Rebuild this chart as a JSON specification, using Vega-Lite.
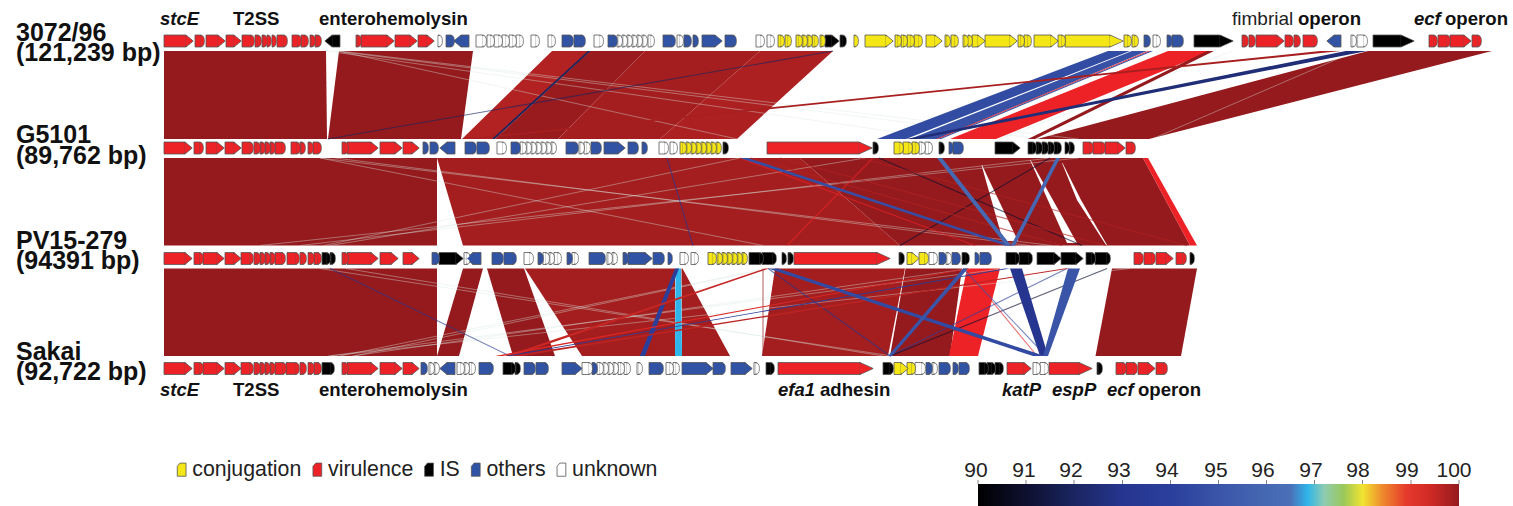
{"$schema":"https://vega.github.io/schema/vega-lite/v6.json","width":1513,"height":506,"padding":0,"autosize":{"type":"fit","contains":"padding"},"background":"white","config":{"view":{"stroke":null},"text":{"font":"Liberation Sans"},"legend":{"labelFont":"Liberation Sans"}},
"datasets":{
"ribbons":[
{"r":"a1","y":51,"x":164,"x2":326,"v":100},{"r":"a1","y":139,"x":164,"x2":327,"v":100},
{"r":"a2","y":51,"x":339,"x2":473,"v":100},{"r":"a2","y":139,"x":328,"x2":461,"v":100},
{"r":"a3","y":51,"x":552,"x2":590,"v":99.7},{"r":"a3","y":139,"x":462,"x2":495,"v":99.7},
{"r":"a4","y":51,"x":590,"x2":645,"v":99.95},{"r":"a4","y":139,"x":495,"x2":558,"v":99.95},
{"r":"a5","y":51,"x":645,"x2":760,"v":99.85},{"r":"a5","y":139,"x":558,"x2":660,"v":99.85},
{"r":"a6","y":51,"x":760,"x2":833,"v":99.75},{"r":"a6","y":139,"x":660,"x2":737,"v":99.75},
{"r":"a7","y":51,"x":1368,"x2":1492,"v":100},{"r":"a7","y":139,"x":1037,"x2":1149,"v":100},
{"r":"b1","y":158,"x":164,"x2":437,"v":100},{"r":"b1","y":245.5,"x":164,"x2":437,"v":100},
{"r":"b2","y":158,"x":437,"x2":800,"v":99.85},{"r":"b2","y":245.5,"x":463,"x2":900,"v":99.85},
{"r":"b3","y":158,"x":800,"x2":1143,"v":100},{"r":"b3","y":245.5,"x":900,"x2":1190,"v":100},
{"r":"b4","y":158,"x":1143,"x2":1148,"v":98.9},{"r":"b4","y":245.5,"x":1190,"x2":1197,"v":98.9},
{"r":"c1","y":268.5,"x":164,"x2":437,"v":100},{"r":"c1","y":356,"x":164,"x2":437,"v":100},
{"r":"c2","y":268.5,"x":463,"x2":483,"v":100},{"r":"c2","y":356,"x":437,"x2":459,"v":100},
{"r":"c3","y":268.5,"x":487,"x2":524,"v":100},{"r":"c3","y":356,"x":513,"x2":555,"v":100},
{"r":"c4","y":268.5,"x":525,"x2":675,"v":99.85},{"r":"c4","y":356,"x":582,"x2":675,"v":99.85},
{"r":"c6","y":268.5,"x":681.5,"x2":682.5,"v":99.85},{"r":"c6","y":356,"x":682,"x2":730,"v":99.85},
{"r":"c12","y":268.5,"x":775,"x2":905,"v":99.85},{"r":"c12","y":356,"x":762,"x2":888,"v":99.85},
{"r":"c13","y":268.5,"x":905.5,"x2":962,"v":100},{"r":"c13","y":356,"x":890,"x2":950,"v":100},
{"r":"c14","y":268.5,"x":967,"x2":1000,"v":98.9},{"r":"c14","y":356,"x":949,"x2":978,"v":98.9},
{"r":"c19","y":268.5,"x":1112,"x2":1197,"v":100},{"r":"c19","y":356,"x":1095.5,"x2":1181,"v":100}
],
"gaps":[
{"r":"w1","y":165,"x":981.5,"x2":982},{"r":"w1","y":241,"x":1003,"x2":1018},
{"r":"w2","y":160,"x":1030,"x2":1030.5},{"r":"w2","y":243,"x":1067,"x2":1077},
{"r":"w3","y":163,"x":1062,"x2":1062.5},{"r":"w3","y":200,"x":1077,"x2":1081},{"r":"w3","y":245,"x":1106,"x2":1107}
],
"bands":[
{"r":"a8","y":51,"x":1108,"x2":1130,"v":94.6},{"r":"a8","y":139,"x":877,"x2":906,"v":94.6},
{"r":"a9","y":51,"x":1132,"x2":1147,"v":94.8},{"r":"a9","y":139,"x":910,"x2":937,"v":94.8},
{"r":"a10","y":51,"x":1168,"x2":1212,"v":98.9},{"r":"a10","y":139,"x":950,"x2":996,"v":98.9},
{"r":"a11","y":51,"x":1150,"x2":1153,"v":95},{"r":"a11","y":139,"x":938,"x2":941,"v":95},
{"r":"a12","y":51,"x":1148,"x2":1150,"v":99},{"r":"a12","y":139,"x":936,"x2":938,"v":99},
{"r":"a13","y":51,"x":1207,"x2":1214,"v":100},{"r":"a13","y":139,"x":1028,"x2":1035,"v":100},
{"r":"a14","y":51,"x":1320,"x2":1341,"v":99.8},{"r":"a14","y":139,"x":462,"x2":476,"v":99.8},
{"r":"a15","y":51,"x":1346,"x2":1367,"v":92.5},{"r":"a15","y":139,"x":906,"x2":918,"v":92.5},
{"r":"a16","y":51,"x":588,"x2":590.5,"v":92},{"r":"a16","y":139,"x":492,"x2":494.5,"v":92},
{"r":"b5","y":158,"x":740,"x2":748,"v":94.7},{"r":"b5","y":245.5,"x":1005,"x2":1013,"v":94.7},
{"r":"b6","y":158,"x":937,"x2":942,"v":96},{"r":"b6","y":245.5,"x":1006,"x2":1011,"v":96},
{"r":"b7","y":158,"x":1056,"x2":1060,"v":96},{"r":"b7","y":245.5,"x":1011,"x2":1015,"v":96},
{"r":"c5","y":268.5,"x":675.5,"x2":681,"v":96.85},{"r":"c5","y":356,"x":675,"x2":682,"v":96.85},
{"r":"c7","y":268.5,"x":675,"x2":679,"v":94},{"r":"c7","y":356,"x":640,"x2":645,"v":94},
{"r":"c8","y":268.5,"x":765,"x2":769,"v":99.5},{"r":"c8","y":356,"x":505,"x2":513,"v":99.5},
{"r":"c9","y":268.5,"x":966,"x2":970,"v":99.2},{"r":"c9","y":356,"x":495,"x2":503,"v":99.2},
{"r":"c10","y":268.5,"x":1064,"x2":1070,"v":99.6},{"r":"c10","y":356,"x":510,"x2":522,"v":99.6},
{"r":"c11","y":268.5,"x":1005,"x2":1010,"v":93.9},{"r":"c11","y":356,"x":505,"x2":510,"v":93.9},
{"r":"c15","y":268.5,"x":1010,"x2":1022,"v":93},{"r":"c15","y":356,"x":1040,"x2":1048,"v":93},
{"r":"c16","y":268.5,"x":1068,"x2":1080,"v":95},{"r":"c16","y":356,"x":1043,"x2":1048,"v":95},
{"r":"c17","y":268.5,"x":768,"x2":778,"v":94.5},{"r":"c17","y":356,"x":1033,"x2":1045,"v":94.5},
{"r":"c18","y":268.5,"x":963,"x2":968,"v":95},{"r":"c18","y":356,"x":888,"x2":892,"v":95}
],
"faint":[
{"x":339,"x2":1078,"y":51,"y2":139},{"x":327,"x2":945,"y":51,"y2":139},{"x":338,"x2":737,"y":51,"y2":139},{"x":335,"x2":1040,"y":51,"y2":139},{"x":1232,"x2":1000,"y":51,"y2":139},{"x":1356,"x2":1152,"y":51,"y2":139},
{"x":320,"x2":1052,"y":158,"y2":245.5},{"x":335,"x2":1030,"y":158,"y2":245.5},{"x":320,"x2":763,"y":158,"y2":245.5},{"x":740,"x2":324,"y":158,"y2":245.5},{"x":865,"x2":330,"y":158,"y2":245.5},{"x":1078,"x2":260,"y":158,"y2":245.5},{"x":1050,"x2":300,"y":158,"y2":245.5},
{"x":320,"x2":892,"y":268.5,"y2":356},{"x":769,"x2":354,"y":268.5,"y2":356},{"x":1005,"x2":328,"y":268.5,"y2":356},{"x":1130,"x2":330,"y":268.5,"y2":356},{"x":767,"x2":340,"y":268.5,"y2":356},{"x":346,"x2":883,"y":268.5,"y2":356},{"x":970,"x2":352,"y":268.5,"y2":356}
],
"lines":[
{"x":833,"x2":328,"y":51,"y2":139,"v":92},
{"x":667,"x2":693,"y":158,"y2":245.5,"v":93},{"x":879,"x2":1082,"y":158,"y2":245.5,"v":91},{"x":1050,"x2":900,"y":158,"y2":245.5,"v":91},{"x":873,"x2":787,"y":158,"y2":245.5,"v":98.9},{"x":740,"x2":975,"y":158,"y2":245.5,"v":98.9},{"x":751,"x2":1062,"y":158,"y2":245.5,"v":99.7},{"x":780,"x2":1106,"y":158,"y2":245.5,"v":99.7},{"x":860,"x2":1187,"y":158,"y2":245.5,"v":99.7},
{"x":763,"x2":763,"y":268.5,"y2":356,"v":100},{"x":1067,"x2":890,"y":268.5,"y2":356,"v":94},{"x":768,"x2":890,"y":268.5,"y2":356,"v":93},{"x":1107,"x2":890,"y":268.5,"y2":356,"v":91},{"x":965,"x2":1037,"y":268.5,"y2":356,"v":99},{"x":963,"x2":1046,"y":268.5,"y2":356,"v":95},{"x":330,"x2":510,"y":268.5,"y2":356,"v":93}
],
"genes":[
{"y":41,"x":164,"s":186,"k":"virulence","d":"R"},{"y":41,"x":195,"s":201,"k":"virulence"},{"y":41,"x":206,"s":218,"k":"virulence","d":"R"},{"y":41,"x":226,"s":234,"k":"virulence","d":"R"},{"y":41,"x":242,"s":251,"k":"virulence"},{"y":41,"x":255,"s":258,"k":"virulence"},{"y":41,"x":262,"s":264,"k":"virulence"},{"y":41,"x":267,"s":268,"k":"virulence"},{"y":41,"x":272,"s":273,"k":"virulence"},{"y":41,"x":277,"s":284,"k":"virulence"},{"y":41,"x":292,"s":298,"k":"virulence"},{"y":41,"x":301,"s":305,"k":"virulence"},{"y":41,"x":310,"s":312,"k":"virulence"},{"y":41,"x":315,"s":318,"k":"virulence"},
{"y":41,"x":340,"s":332,"k":"IS","d":"l"},{"y":41,"x":356,"s":358,"k":"virulence"},{"y":41,"x":361,"s":387,"k":"virulence","d":"R"},{"y":41,"x":395,"s":410,"k":"virulence","d":"R"},{"y":41,"x":418,"s":427,"k":"virulence","d":"R"},
{"y":41,"x":438,"s":439,"k":"unknown"},{"y":41,"x":446,"s":451,"k":"others"},{"y":41,"x":469,"s":461,"k":"others","d":"l"},
{"y":41,"x":476,"s":483,"k":"unknown"},{"y":41,"x":487,"s":491,"k":"unknown"},{"y":41,"x":494,"s":499,"k":"unknown"},{"y":41,"x":502,"s":506,"k":"unknown"},{"y":41,"x":509,"s":513,"k":"unknown"},{"y":41,"x":516,"s":520,"k":"unknown"},{"y":41,"x":531,"s":536,"k":"unknown"},{"y":41,"x":548,"s":552,"k":"unknown"},
{"y":41,"x":562,"s":570,"k":"others"},{"y":41,"x":574,"s":582,"k":"others"},{"y":41,"x":594,"s":600,"k":"unknown"},{"y":41,"x":608,"s":614,"k":"others"},{"y":41,"x":617,"s":619,"k":"unknown"},{"y":41,"x":622,"s":624,"k":"unknown"},{"y":41,"x":627,"s":629,"k":"unknown"},{"y":41,"x":632,"s":634,"k":"unknown"},{"y":41,"x":637,"s":639,"k":"unknown"},{"y":41,"x":642,"s":644,"k":"unknown"},{"y":41,"x":648,"s":651,"k":"unknown"},
{"y":41,"x":663,"s":672,"k":"others"},{"y":41,"x":677,"s":680,"k":"unknown"},{"y":41,"x":684,"s":688,"k":"others"},{"y":41,"x":693,"s":695,"k":"others"},{"y":41,"x":702,"s":715,"k":"others","d":"R"},{"y":41,"x":725,"s":733,"k":"others"},
{"y":41,"x":756,"s":761,"k":"unknown"},{"y":41,"x":767,"s":771,"k":"unknown"},{"y":41,"x":778,"s":781,"k":"conjugation"},{"y":41,"x":785,"s":788,"k":"conjugation"},{"y":41,"x":796,"s":799,"k":"conjugation"},{"y":41,"x":802,"s":804,"k":"conjugation"},{"y":41,"x":807,"s":809,"k":"conjugation"},{"y":41,"x":812,"s":815,"k":"conjugation"},{"y":41,"x":820,"s":822,"k":"conjugation"},{"y":41,"x":825,"s":832,"k":"IS","d":"R"},{"y":41,"x":840,"s":843,"k":"IS"},{"y":41,"x":854,"s":855,"k":"conjugation"},
{"y":41,"x":865,"s":886,"k":"conjugation","d":"R"},{"y":41,"x":895,"s":898,"k":"conjugation"},{"y":41,"x":901,"s":904,"k":"conjugation"},{"y":41,"x":907,"s":911,"k":"conjugation"},{"y":41,"x":914,"s":919,"k":"conjugation"},{"y":41,"x":926,"s":935,"k":"conjugation","d":"R"},{"y":41,"x":945,"s":947,"k":"conjugation"},{"y":41,"x":951,"s":955,"k":"conjugation"},{"y":41,"x":963,"s":965,"k":"conjugation"},{"y":41,"x":968,"s":969,"k":"conjugation"},{"y":41,"x":972,"s":978,"k":"conjugation","d":"R"},{"y":41,"x":985,"s":1010,"k":"conjugation","d":"R"},{"y":41,"x":1018,"s":1021,"k":"conjugation"},{"y":41,"x":1024,"s":1028,"k":"conjugation"},{"y":41,"x":1034,"s":1051,"k":"conjugation","d":"R"},{"y":41,"x":1058,"s":1062,"k":"conjugation"},{"y":41,"x":1065,"s":1110,"k":"conjugation","d":"H"},{"y":41,"x":1124,"s":1128,"k":"conjugation"},{"y":41,"x":1132,"s":1135,"k":"conjugation"},
{"y":41,"x":1144,"s":1147,"k":"others"},{"y":41,"x":1153,"s":1157,"k":"unknown"},{"y":41,"x":1167,"s":1169,"k":"others"},{"y":41,"x":1172,"s":1180,"k":"others"},{"y":41,"x":1194,"s":1220,"k":"IS","d":"H"},{"y":41,"x":1242,"s":1245,"k":"virulence"},{"y":41,"x":1249,"s":1252,"k":"virulence"},{"y":41,"x":1256,"s":1277,"k":"virulence","d":"R"},{"y":41,"x":1285,"s":1290,"k":"virulence"},{"y":41,"x":1294,"s":1297,"k":"virulence"},{"y":41,"x":1303,"s":1314,"k":"virulence"},{"y":41,"x":1341,"s":1334,"k":"others","d":"l"},{"y":41,"x":1351,"s":1353,"k":"unknown"},{"y":41,"x":1357,"s":1364,"k":"unknown"},{"y":41,"x":1373,"s":1401,"k":"IS","d":"H"},{"y":41,"x":1429,"s":1434,"k":"virulence"},{"y":41,"x":1438,"s":1447,"k":"virulence"},{"y":41,"x":1450,"s":1464,"k":"virulence","d":"R"},{"y":41,"x":1472,"s":1478,"k":"virulence"},

{"y":148,"x":164,"s":185,"k":"virulence","d":"R"},{"y":148,"x":194,"s":200,"k":"virulence"},{"y":148,"x":206,"s":217,"k":"virulence","d":"R"},{"y":148,"x":225,"s":234,"k":"virulence","d":"R"},{"y":148,"x":242,"s":250,"k":"virulence"},{"y":148,"x":254,"s":257,"k":"virulence"},{"y":148,"x":260,"s":262,"k":"virulence"},{"y":148,"x":265,"s":267,"k":"virulence"},{"y":148,"x":270,"s":272,"k":"virulence"},{"y":148,"x":275,"s":282,"k":"virulence"},{"y":148,"x":291,"s":297,"k":"virulence"},{"y":148,"x":300,"s":302,"k":"virulence"},{"y":148,"x":308,"s":310,"k":"virulence"},{"y":148,"x":313,"s":318,"k":"virulence"},
{"y":148,"x":342,"s":345,"k":"virulence"},{"y":148,"x":347,"s":371,"k":"virulence","d":"R"},{"y":148,"x":380,"s":395,"k":"virulence","d":"R"},{"y":148,"x":403,"s":412,"k":"virulence","d":"R"},
{"y":148,"x":423,"s":425,"k":"others"},{"y":148,"x":430,"s":435,"k":"others"},{"y":148,"x":455,"s":447,"k":"others","d":"l"},{"y":148,"x":465,"s":473,"k":"others"},{"y":148,"x":477,"s":486,"k":"others"},{"y":148,"x":497,"s":503,"k":"unknown"},{"y":148,"x":511,"s":517,"k":"others"},{"y":148,"x":520,"s":523,"k":"unknown"},{"y":148,"x":526,"s":528,"k":"unknown"},{"y":148,"x":531,"s":533,"k":"unknown"},{"y":148,"x":536,"s":538,"k":"unknown"},{"y":148,"x":541,"s":543,"k":"unknown"},{"y":148,"x":546,"s":548,"k":"unknown"},{"y":148,"x":551,"s":553,"k":"unknown"},
{"y":148,"x":566,"s":575,"k":"others"},{"y":148,"x":579,"s":581,"k":"unknown"},{"y":148,"x":584,"s":587,"k":"unknown"},{"y":148,"x":591,"s":598,"k":"others"},{"y":148,"x":604,"s":618,"k":"others","d":"R"},{"y":148,"x":628,"s":635,"k":"others"},{"y":148,"x":642,"s":644,"k":"others"},{"y":148,"x":659,"s":665,"k":"unknown"},{"y":148,"x":670,"s":674,"k":"unknown"},
{"y":148,"x":680,"s":683,"k":"conjugation"},{"y":148,"x":686,"s":688,"k":"conjugation"},{"y":148,"x":691,"s":693,"k":"conjugation"},{"y":148,"x":696,"s":698,"k":"conjugation"},{"y":148,"x":701,"s":703,"k":"conjugation"},{"y":148,"x":706,"s":708,"k":"conjugation"},{"y":148,"x":711,"s":713,"k":"conjugation"},{"y":148,"x":716,"s":718,"k":"conjugation"},{"y":148,"x":723,"s":725,"k":"IS"},
{"y":148,"x":767,"s":859,"k":"virulence","d":"H"},{"y":148,"x":873,"s":875,"k":"IS"},{"y":148,"x":894,"s":900,"k":"conjugation"},{"y":148,"x":903,"s":909,"k":"conjugation"},{"y":148,"x":912,"s":916,"k":"conjugation"},{"y":148,"x":919,"s":922,"k":"unknown"},{"y":148,"x":925,"s":929,"k":"unknown"},{"y":148,"x":939,"s":941,"k":"IS"},{"y":148,"x":949,"s":950,"k":"others"},{"y":148,"x":953,"s":960,"k":"others"},
{"y":148,"x":995,"s":1013,"k":"IS","d":"R"},{"y":148,"x":1028,"s":1033,"k":"IS"},{"y":148,"x":1036,"s":1039,"k":"IS"},{"y":148,"x":1042,"s":1045,"k":"IS"},{"y":148,"x":1048,"s":1051,"k":"IS"},{"y":148,"x":1054,"s":1058,"k":"IS"},{"y":148,"x":1065,"s":1066,"k":"IS"},{"y":148,"x":1069,"s":1071,"k":"IS"},{"y":148,"x":1083,"s":1090,"k":"virulence"},{"y":148,"x":1093,"s":1102,"k":"virulence"},{"y":148,"x":1105,"s":1118,"k":"virulence","d":"R"},{"y":148,"x":1126,"s":1132,"k":"virulence"},

{"y":258.5,"x":164,"s":185,"k":"virulence","d":"R"},{"y":258.5,"x":194,"s":200,"k":"virulence"},{"y":258.5,"x":203,"s":217,"k":"virulence","d":"R"},{"y":258.5,"x":225,"s":234,"k":"virulence","d":"R"},{"y":258.5,"x":241,"s":250,"k":"virulence"},{"y":258.5,"x":254,"s":257,"k":"virulence"},{"y":258.5,"x":260,"s":262,"k":"virulence"},{"y":258.5,"x":265,"s":267,"k":"virulence"},{"y":258.5,"x":270,"s":272,"k":"virulence"},{"y":258.5,"x":275,"s":282,"k":"virulence"},{"y":258.5,"x":287,"s":296,"k":"virulence"},{"y":258.5,"x":300,"s":303,"k":"virulence"},{"y":258.5,"x":308,"s":311,"k":"virulence"},{"y":258.5,"x":314,"s":318,"k":"virulence"},{"y":258.5,"x":322,"s":327,"k":"IS"},{"y":258.5,"x":330,"s":332,"k":"IS"},
{"y":258.5,"x":342,"s":345,"k":"virulence"},{"y":258.5,"x":347,"s":371,"k":"virulence","d":"R"},{"y":258.5,"x":380,"s":391,"k":"virulence","d":"R"},{"y":258.5,"x":403,"s":412,"k":"virulence","d":"R"},
{"y":258.5,"x":432,"s":436,"k":"others"},{"y":258.5,"x":439,"s":456,"k":"IS","d":"R"},{"y":258.5,"x":464,"s":467,"k":"unknown"},{"y":258.5,"x":481,"s":473,"k":"others","d":"l"},{"y":258.5,"x":492,"s":500,"k":"others"},{"y":258.5,"x":504,"s":513,"k":"others"},{"y":258.5,"x":524,"s":530,"k":"unknown"},{"y":258.5,"x":538,"s":540,"k":"others"},{"y":258.5,"x":543,"s":546,"k":"unknown"},{"y":258.5,"x":549,"s":551,"k":"unknown"},{"y":258.5,"x":554,"s":558,"k":"unknown"},{"y":258.5,"x":567,"s":569,"k":"others"},{"y":258.5,"x":572,"s":575,"k":"unknown"},
{"y":258.5,"x":589,"s":602,"k":"others"},{"y":258.5,"x":607,"s":609,"k":"unknown"},{"y":258.5,"x":612,"s":614,"k":"unknown"},{"y":258.5,"x":623,"s":625,"k":"others"},{"y":258.5,"x":628,"s":645,"k":"others","d":"R"},{"y":258.5,"x":653,"s":661,"k":"others"},{"y":258.5,"x":668,"s":669,"k":"others"},{"y":258.5,"x":680,"s":685,"k":"unknown"},{"y":258.5,"x":691,"s":695,"k":"unknown"},
{"y":258.5,"x":708,"s":713,"k":"conjugation"},{"y":258.5,"x":717,"s":719,"k":"conjugation"},{"y":258.5,"x":722,"s":724,"k":"conjugation"},{"y":258.5,"x":727,"s":729,"k":"conjugation"},{"y":258.5,"x":732,"s":734,"k":"conjugation"},{"y":258.5,"x":737,"s":739,"k":"conjugation"},{"y":258.5,"x":742,"s":744,"k":"conjugation"},{"y":258.5,"x":749,"s":760,"k":"IS"},{"y":258.5,"x":762,"s":773,"k":"IS"},{"y":258.5,"x":782,"s":783,"k":"IS"},{"y":258.5,"x":788,"s":790,"k":"IS"},
{"y":258.5,"x":794,"s":877,"k":"virulence","d":"H"},{"y":258.5,"x":899,"s":901,"k":"IS"},{"y":258.5,"x":907,"s":912,"k":"conjugation","d":"R"},{"y":258.5,"x":919,"s":925,"k":"conjugation"},{"y":258.5,"x":929,"s":934,"k":"unknown"},{"y":258.5,"x":939,"s":943,"k":"others"},{"y":258.5,"x":946,"s":948,"k":"unknown"},{"y":258.5,"x":952,"s":957,"k":"others"},{"y":258.5,"x":962,"s":966,"k":"IS"},{"y":258.5,"x":975,"s":976,"k":"others"},{"y":258.5,"x":980,"s":988,"k":"others"},
{"y":258.5,"x":1006,"s":1016,"k":"IS"},{"y":258.5,"x":1019,"s":1029,"k":"IS"},{"y":258.5,"x":1037,"s":1054,"k":"IS","d":"R"},{"y":258.5,"x":1061,"s":1076,"k":"IS","d":"R"},{"y":258.5,"x":1086,"s":1092,"k":"IS"},{"y":258.5,"x":1095,"s":1107,"k":"IS"},{"y":258.5,"x":1134,"s":1140,"k":"virulence"},{"y":258.5,"x":1144,"s":1152,"k":"virulence"},{"y":258.5,"x":1156,"s":1166,"k":"virulence","d":"R"},{"y":258.5,"x":1176,"s":1183,"k":"virulence"},{"y":258.5,"x":1190,"s":1191,"k":"IS"},

{"y":368.5,"x":164,"s":185,"k":"virulence","d":"R"},{"y":368.5,"x":194,"s":200,"k":"virulence"},{"y":368.5,"x":203,"s":217,"k":"virulence","d":"R"},{"y":368.5,"x":225,"s":234,"k":"virulence","d":"R"},{"y":368.5,"x":241,"s":250,"k":"virulence"},{"y":368.5,"x":254,"s":257,"k":"virulence"},{"y":368.5,"x":260,"s":262,"k":"virulence"},{"y":368.5,"x":265,"s":267,"k":"virulence"},{"y":368.5,"x":270,"s":272,"k":"virulence"},{"y":368.5,"x":275,"s":283,"k":"virulence"},{"y":368.5,"x":286,"s":296,"k":"virulence"},{"y":368.5,"x":300,"s":303,"k":"virulence"},{"y":368.5,"x":308,"s":311,"k":"virulence"},{"y":368.5,"x":314,"s":318,"k":"virulence"},{"y":368.5,"x":322,"s":331,"k":"IS"},
{"y":368.5,"x":342,"s":345,"k":"virulence"},{"y":368.5,"x":347,"s":371,"k":"virulence","d":"R"},{"y":368.5,"x":380,"s":395,"k":"virulence","d":"R"},{"y":368.5,"x":403,"s":412,"k":"virulence","d":"R"},
{"y":368.5,"x":421,"s":424,"k":"others"},{"y":368.5,"x":429,"s":431,"k":"unknown"},{"y":368.5,"x":434,"s":436,"k":"unknown"},{"y":368.5,"x":455,"s":447,"k":"others","d":"l"},{"y":368.5,"x":457,"s":461,"k":"unknown"},{"y":368.5,"x":464,"s":466,"k":"unknown"},{"y":368.5,"x":469,"s":472,"k":"unknown"},{"y":368.5,"x":479,"s":490,"k":"others"},{"y":368.5,"x":503,"s":512,"k":"IS"},{"y":368.5,"x":515,"s":517,"k":"IS"},{"y":368.5,"x":524,"s":532,"k":"others"},{"y":368.5,"x":536,"s":545,"k":"others"},
{"y":368.5,"x":562,"s":575,"k":"others","d":"R"},{"y":368.5,"x":582,"s":589,"k":"unknown"},{"y":368.5,"x":592,"s":594,"k":"others"},{"y":368.5,"x":597,"s":600,"k":"unknown"},{"y":368.5,"x":603,"s":605,"k":"unknown"},{"y":368.5,"x":608,"s":610,"k":"unknown"},{"y":368.5,"x":613,"s":615,"k":"unknown"},{"y":368.5,"x":618,"s":621,"k":"unknown"},{"y":368.5,"x":624,"s":627,"k":"unknown"},{"y":368.5,"x":637,"s":639,"k":"unknown"},
{"y":368.5,"x":649,"s":660,"k":"others"},{"y":368.5,"x":666,"s":670,"k":"unknown"},{"y":368.5,"x":673,"s":676,"k":"unknown"},{"y":368.5,"x":682,"s":706,"k":"others","d":"R"},{"y":368.5,"x":713,"s":722,"k":"others"},{"y":368.5,"x":731,"s":745,"k":"others","d":"R"},{"y":368.5,"x":754,"s":756,"k":"unknown"},{"y":368.5,"x":766,"s":771,"k":"IS"},
{"y":368.5,"x":778,"s":860,"k":"virulence","d":"H"},{"y":368.5,"x":883,"s":890,"k":"IS"},{"y":368.5,"x":894,"s":901,"k":"conjugation","d":"R"},{"y":368.5,"x":907,"s":912,"k":"conjugation"},{"y":368.5,"x":915,"s":922,"k":"unknown"},{"y":368.5,"x":926,"s":929,"k":"others"},{"y":368.5,"x":932,"s":934,"k":"unknown"},{"y":368.5,"x":939,"s":947,"k":"others"},{"y":368.5,"x":953,"s":955,"k":"others"},{"y":368.5,"x":959,"s":966,"k":"others"},
{"y":368.5,"x":979,"s":985,"k":"IS"},{"y":368.5,"x":987,"s":992,"k":"IS"},{"y":368.5,"x":995,"s":1000,"k":"IS"},{"y":368.5,"x":1007,"s":1024,"k":"virulence","d":"R"},{"y":368.5,"x":1033,"s":1037,"k":"unknown"},{"y":368.5,"x":1040,"s":1045,"k":"unknown"},{"y":368.5,"x":1049,"s":1079,"k":"virulence","d":"H"},{"y":368.5,"x":1097,"s":1099,"k":"IS"},{"y":368.5,"x":1116,"s":1123,"k":"virulence"},{"y":368.5,"x":1126,"s":1134,"k":"virulence"},{"y":368.5,"x":1138,"s":1148,"k":"virulence","d":"R"},{"y":368.5,"x":1156,"s":1164,"k":"virulence"}
],
"labels":[
{"x":16,"y":41,"t":"3072/96","f":"name"},{"x":16,"y":61,"t":"(121,239 bp)","f":"name"},{"x":16,"y":143,"t":"G5101","f":"name"},{"x":16,"y":164,"t":"(89,762 bp)","f":"name"},{"x":16,"y":249,"t":"PV15-279","f":"name"},{"x":16,"y":269,"t":"(94391 bp)","f":"name"},{"x":16,"y":360,"t":"Sakai","f":"name"},{"x":16,"y":380,"t":"(92,722 bp)","f":"name"},
{"x":160,"y":25,"t":"stcE","f":"bi"},{"x":1414,"y":25,"t":"ecf","f":"bi"},{"x":160,"y":396,"t":"stcE","f":"bi"},{"x":778,"y":396,"t":"efa1","f":"bi"},{"x":1002,"y":396,"t":"katP","f":"bi"},{"x":1052,"y":396,"t":"espP","f":"bi"},{"x":1107,"y":396,"t":"ecf","f":"bi"},
{"x":233,"y":25,"t":"T2SS","f":"b"},{"x":319,"y":25,"t":"enterohemolysin","f":"b"},{"x":1298,"y":25,"t":"operon","f":"b"},{"x":1445,"y":25,"t":"operon","f":"b"},{"x":233,"y":396,"t":"T2SS","f":"b"},{"x":319,"y":396,"t":"enterohemolysin","f":"b"},{"x":820,"y":396,"t":"adhesin","f":"b"},{"x":1138,"y":396,"t":"operon","f":"b"},
{"x":1232,"y":25,"t":"fimbrial","f":"n"}
],
"bar":[{"x":978,"x2":1459,"y":484,"y2":506}],
"ticks":[{"x":978,"l":976,"t":"90"},{"x":1026,"l":1024,"t":"91"},{"x":1074,"l":1071,"t":"92"},{"x":1122.5,"l":1119,"t":"93"},{"x":1170.5,"l":1167,"t":"94"},{"x":1218.5,"l":1216,"t":"95"},{"x":1266.5,"l":1263,"t":"96"},{"x":1314.5,"l":1311,"t":"97"},{"x":1362.5,"l":1358,"t":"98"},{"x":1411,"l":1407,"t":"99"},{"x":1459,"l":1454,"t":"100"}]
},
"layer":[
{"data":{"name":"ribbons"},"mark":{"type":"area","orient":"horizontal"},"encoding":{"y":{"field":"y","type":"quantitative","axis":null,"scale":{"domain":[0,506],"reverse":true,"nice":false,"zero":false}},"x":{"field":"x","type":"quantitative","axis":null,"scale":{"domain":[0,1513],"nice":false,"zero":false}},"x2":{"field":"x2"},"detail":{"field":"r"},"color":{"field":"v","type":"quantitative","legend":null,"scale":{"domain":[90,91,92,93,94,95,96,96.5,96.85,97.2,97.6,98,98.4,98.9,99.4,100],"range":["#000000","#0e1030","#1a2560","#26358f","#2a3f9c","#3a55a8","#4668b2","#4a70b8","#2fb5ea","#8fccb0","#9ac85a","#f2e431","#ef8b2d","#ec2226","#d02a26","#951a1d"]}}}},
{"data":{"name":"gaps"},"mark":{"type":"area","orient":"horizontal","color":"white"},"encoding":{"y":{"field":"y","type":"quantitative","axis":null,"scale":{"domain":[0,506],"reverse":true,"nice":false,"zero":false}},"x":{"field":"x","type":"quantitative","axis":null,"scale":{"domain":[0,1513],"nice":false,"zero":false}},"x2":{"field":"x2"},"detail":{"field":"r"}}},
{"data":{"name":"faint"},"mark":{"type":"rule","color":"#d8e8e0","opacity":0.5,"strokeWidth":0.8},"encoding":{"y":{"field":"y","type":"quantitative","axis":null,"scale":{"domain":[0,506],"reverse":true,"nice":false,"zero":false}},"y2":{"field":"y2"},"x":{"field":"x","type":"quantitative","axis":null,"scale":{"domain":[0,1513],"nice":false,"zero":false}},"x2":{"field":"x2"}}},
{"data":{"name":"lines"},"mark":{"type":"rule","opacity":0.65,"strokeWidth":1.1},"encoding":{"y":{"field":"y","type":"quantitative","axis":null,"scale":{"domain":[0,506],"reverse":true,"nice":false,"zero":false}},"y2":{"field":"y2"},"x":{"field":"x","type":"quantitative","axis":null,"scale":{"domain":[0,1513],"nice":false,"zero":false}},"x2":{"field":"x2"},"color":{"field":"v","type":"quantitative","legend":null,"scale":{"domain":[90,91,92,93,94,95,96,96.5,96.85,97.2,97.6,98,98.4,98.9,99.4,100],"range":["#000000","#0e1030","#1a2560","#26358f","#2a3f9c","#3a55a8","#4668b2","#4a70b8","#2fb5ea","#8fccb0","#9ac85a","#f2e431","#ef8b2d","#ec2226","#d02a26","#951a1d"]}}}},
{"data":{"name":"bands"},"mark":{"type":"area","orient":"horizontal"},"encoding":{"y":{"field":"y","type":"quantitative","axis":null,"scale":{"domain":[0,506],"reverse":true,"nice":false,"zero":false}},"x":{"field":"x","type":"quantitative","axis":null,"scale":{"domain":[0,1513],"nice":false,"zero":false}},"x2":{"field":"x2"},"detail":{"field":"r"},"color":{"field":"v","type":"quantitative","legend":null,"scale":{"domain":[90,91,92,93,94,95,96,96.5,96.85,97.2,97.6,98,98.4,98.9,99.4,100],"range":["#000000","#0e1030","#1a2560","#26358f","#2a3f9c","#3a55a8","#4668b2","#4a70b8","#2fb5ea","#8fccb0","#9ac85a","#f2e431","#ef8b2d","#ec2226","#d02a26","#951a1d"]}}}},
{"data":{"name":"bar"},"mark":{"type":"rect","fill":{"x1":0,"y1":0,"x2":1,"y2":0,"gradient":"linear","stops":[{"offset":0,"color":"#000000"},{"offset":0.1,"color":"#0e1030"},{"offset":0.2,"color":"#1a2560"},{"offset":0.3,"color":"#26358f"},{"offset":0.4,"color":"#2a3f9c"},{"offset":0.5,"color":"#3a55a8"},{"offset":0.6,"color":"#4668b2"},{"offset":0.65,"color":"#4a70b8"},{"offset":0.685,"color":"#2fb5ea"},{"offset":0.72,"color":"#8fccb0"},{"offset":0.76,"color":"#9ac85a"},{"offset":0.8,"color":"#f2e431"},{"offset":0.84,"color":"#ef8b2d"},{"offset":0.89,"color":"#e63a2c"},{"offset":0.94,"color":"#d02a26"},{"offset":1,"color":"#951a1d"}]}},"encoding":{"x":{"field":"x","type":"quantitative","axis":null,"scale":{"domain":[0,1513],"nice":false,"zero":false}},"x2":{"field":"x2"},"y":{"field":"y","type":"quantitative","axis":null,"scale":{"domain":[0,506],"reverse":true,"nice":false,"zero":false}},"y2":{"field":"y2"}}},
{"data":{"name":"ticks"},"mark":{"type":"rule","color":"#888","strokeWidth":1},"encoding":{"x":{"field":"x","type":"quantitative","axis":null,"scale":{"domain":[0,1513],"nice":false,"zero":false}},"y":{"datum":480,"type":"quantitative","axis":null,"scale":{"domain":[0,506],"reverse":true,"nice":false,"zero":false}},"y2":{"datum":484}}},
{"data":{"name":"ticks"},"mark":{"type":"text","align":"center","baseline":"alphabetic","font":"Liberation Sans","fontSize":21,"color":"#222"},"encoding":{"x":{"field":"l","type":"quantitative","axis":null,"scale":{"domain":[0,1513],"nice":false,"zero":false}},"y":{"datum":477,"type":"quantitative","axis":null,"scale":{"domain":[0,506],"reverse":true,"nice":false,"zero":false}},"text":{"field":"t"}}},
{"data":{"name":"genes"},"mark":{"type":"rect","height":12,"stroke":"#555","strokeWidth":0.8},"encoding":{"y":{"field":"y","type":"quantitative","axis":null,"scale":{"domain":[0,506],"reverse":true,"nice":false,"zero":false}},"x":{"field":"x","type":"quantitative","axis":null,"scale":{"domain":[0,1513],"nice":false,"zero":false}},"x2":{"field":"s"},"fill":{"field":"k","type":"nominal","scale":{"domain":["conjugation","virulence","IS","others","unknown"],"range":["#f5e616","#ec2226","#000000","#3153a5","#ffffff"]},"legend":{"orient":"none","legendX":171,"legendY":459,"title":null,"direction":"horizontal","columns":5,"symbolType":"M0.8,-1.2L-0.3,-1.2L-0.8,-0.6L-0.8,1.2L0.8,1.2Z","symbolSize":120,"symbolStrokeColor":"#555","symbolStrokeWidth":0.8,"labelFontSize":21.3,"labelColor":"#222","labelOffset":0,"columnPadding":4.7,"gridAlign":"each"}}}},
{"data":{"name":"genes"},"mark":{"type":"point","filled":true,"size":144,"stroke":"#555","strokeWidth":0.8,"opacity":1},"encoding":{"y":{"field":"y","type":"quantitative","axis":null,"scale":{"domain":[0,506],"reverse":true,"nice":false,"zero":false}},"x":{"field":"s","type":"quantitative","axis":null,"scale":{"domain":[0,1513],"nice":false,"zero":false}},"fill":{"field":"k","type":"nominal","scale":{"domain":["conjugation","virulence","IS","others","unknown"],"range":["#f5e616","#ec2226","#000000","#3153a5","#ffffff"]}},"shape":{"condition":[{"test":"datum.d==='R'","value":"M0,-1L1.2,0L0,1Z"},{"test":"datum.d==='H'","value":"M0,-1L2.2,0L0,1Z"},{"test":"datum.d==='l'","value":"M0,-1L-1.2,0L0,1Z"}],"value":"M0,-1L0.3,-0.85L0.5,-0.5L0.55,0L0.5,0.5L0.3,0.85L0,1Z"}}},
{"data":{"name":"genes"},"mark":{"type":"point","filled":true,"size":144,"strokeWidth":0,"opacity":1},"encoding":{"y":{"field":"y","type":"quantitative","axis":null,"scale":{"domain":[0,506],"reverse":true,"nice":false,"zero":false}},"x":{"field":"s","type":"quantitative","axis":null,"scale":{"domain":[0,1513],"nice":false,"zero":false}},"fill":{"field":"k","type":"nominal","scale":{"domain":["conjugation","virulence","IS","others","unknown"],"range":["#f5e616","#ec2226","#000000","#3153a5","#ffffff"]}},"shape":{"condition":[{"test":"datum.d==='R'","value":"M-0.1,-0.88L1,0L-0.1,0.88Z"},{"test":"datum.d==='H'","value":"M-0.1,-0.88L2,0L-0.1,0.88Z"},{"test":"datum.d==='l'","value":"M0.1,-0.88L-1,0L0.1,0.88Z"}],"value":"M-0.1,-0.88L0.2,-0.75L0.4,-0.45L0.44,0L0.4,0.45L0.2,0.75L-0.1,0.88Z"}}},
{"data":{"name":"labels"},"transform":[{"filter":"datum.f==='name'"}],"mark":{"type":"text","align":"left","baseline":"alphabetic","font":"Liberation Sans","fontWeight":"bold","fontSize":25,"color":"#111"},"encoding":{"x":{"field":"x","type":"quantitative","axis":null,"scale":{"domain":[0,1513],"nice":false,"zero":false}},"y":{"field":"y","type":"quantitative","axis":null,"scale":{"domain":[0,506],"reverse":true,"nice":false,"zero":false}},"text":{"field":"t"}}},
{"data":{"name":"labels"},"transform":[{"filter":"datum.f==='bi'"}],"mark":{"type":"text","align":"left","baseline":"alphabetic","font":"Liberation Sans","fontWeight":"bold","fontStyle":"italic","fontSize":18.5,"color":"#111"},"encoding":{"x":{"field":"x","type":"quantitative","axis":null,"scale":{"domain":[0,1513],"nice":false,"zero":false}},"y":{"field":"y","type":"quantitative","axis":null,"scale":{"domain":[0,506],"reverse":true,"nice":false,"zero":false}},"text":{"field":"t"}}},
{"data":{"name":"labels"},"transform":[{"filter":"datum.f==='b'"}],"mark":{"type":"text","align":"left","baseline":"alphabetic","font":"Liberation Sans","fontWeight":"bold","fontSize":18.6,"color":"#111"},"encoding":{"x":{"field":"x","type":"quantitative","axis":null,"scale":{"domain":[0,1513],"nice":false,"zero":false}},"y":{"field":"y","type":"quantitative","axis":null,"scale":{"domain":[0,506],"reverse":true,"nice":false,"zero":false}},"text":{"field":"t"}}},
{"data":{"name":"labels"},"transform":[{"filter":"datum.f==='n'"}],"mark":{"type":"text","align":"left","baseline":"alphabetic","font":"Liberation Sans","fontSize":19,"color":"#222"},"encoding":{"x":{"field":"x","type":"quantitative","axis":null,"scale":{"domain":[0,1513],"nice":false,"zero":false}},"y":{"field":"y","type":"quantitative","axis":null,"scale":{"domain":[0,506],"reverse":true,"nice":false,"zero":false}},"text":{"field":"t"}}}
],
"resolve":{"scale":{"color":"shared","fill":"shared"}}}
